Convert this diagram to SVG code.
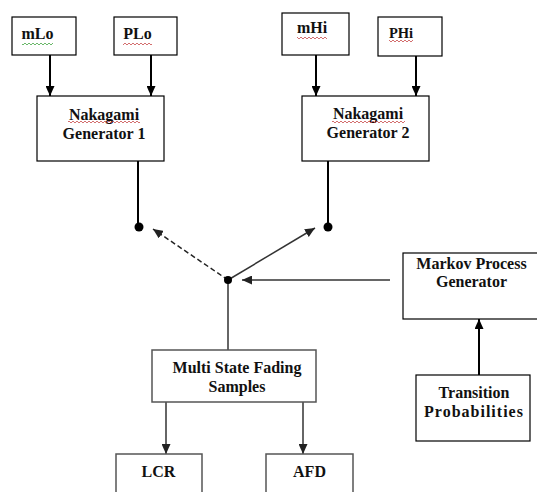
<svg xmlns="http://www.w3.org/2000/svg" width="537" height="492" viewBox="0 0 537 492">
<style>
.box{fill:#fff;stroke:#000;stroke-width:1.2}
.gbox{fill:#fff;stroke:#555;stroke-width:1.5}
.t{font-family:'Liberation Serif','DejaVu Serif',serif;font-weight:bold;font-size:16px;fill:#111;text-anchor:middle}
.thick{stroke:#000;stroke-width:2;fill:none}
.thin{stroke:#333;stroke-width:1.5;fill:none}
.dash{stroke:#222;stroke-width:1.5;fill:none;stroke-dasharray:5,3}
</style>
<defs>
<marker id="ah" markerUnits="userSpaceOnUse" markerWidth="11" markerHeight="9" refX="10" refY="4.5" orient="auto">
<path d="M0,0 L10,4.5 L0,9 z" fill="#000"/>
</marker>
<marker id="ahs" markerUnits="userSpaceOnUse" markerWidth="11" markerHeight="9" refX="10" refY="4.5" orient="auto">
<path d="M0,0 L10,4.5 L0,9 z" fill="#222"/>
</marker>
<pattern id="wr" width="4" height="3" patternUnits="userSpaceOnUse">
<path d="M0,2 Q1,0 2,2 T4,2" fill="none" stroke="#c03030" stroke-width="0.7"/>
</pattern>
<pattern id="wg" width="4" height="3" patternUnits="userSpaceOnUse">
<path d="M0,2 Q1,0 2,2 T4,2" fill="none" stroke="#2a9a2a" stroke-width="0.7"/>
</pattern>
</defs>
<rect width="537" height="492" fill="#fff"/>

<g id="connectors">
<line class="thick" x1="50" y1="55" x2="50" y2="96" marker-end="url(#ah)"/>
<line class="thick" x1="151" y1="55" x2="151" y2="96" marker-end="url(#ah)"/>
<line class="thick" x1="316" y1="55" x2="316" y2="96" marker-end="url(#ah)"/>
<line class="thick" x1="416" y1="56" x2="416" y2="96" marker-end="url(#ah)"/>
<line class="thick" x1="138" y1="161" x2="138" y2="227"/>
<line class="thick" x1="328" y1="161" x2="328" y2="227"/>
<line class="dash" x1="228" y1="280" x2="153" y2="229" marker-end="url(#ahs)"/>
<line class="thin" x1="228" y1="280" x2="315" y2="228" marker-end="url(#ahs)"/>
<line class="thin" x1="390" y1="280" x2="242" y2="280" marker-end="url(#ahs)"/>
<line class="thin" x1="228" y1="280" x2="228" y2="350"/>
<line class="thick" x1="479" y1="375" x2="479" y2="319" marker-end="url(#ah)"/>
<line class="thin" x1="166" y1="402" x2="166" y2="454" marker-end="url(#ahs)"/>
<line class="thin" x1="303" y1="402" x2="303" y2="454" marker-end="url(#ahs)"/>
<circle cx="139" cy="227" r="4.5" fill="#000"/>
<circle cx="328" cy="227" r="4.5" fill="#000"/>
<circle cx="228" cy="280" r="4" fill="#000"/>
</g>

<g id="mLo">
<rect class="box" x="12" y="17" width="64" height="38"/>
<text class="t" x="37.5" y="39" font-family="Liberation Serif">mLo</text>
<rect x="22" y="42" width="31" height="3" fill="url(#wg)"/>
</g>
<g id="PLo">
<rect class="box" x="114" y="17" width="63" height="38"/>
<text class="t" x="137.5" y="39">PLo</text>
<rect x="123" y="42" width="29" height="3" fill="url(#wr)"/>
</g>
<g id="mHi">
<rect class="box" x="282" y="13" width="67" height="42"/>
<text class="t" x="312" y="33">mHi</text>
<rect x="297" y="36" width="30" height="3" fill="url(#wr)"/>
</g>
<g id="PHi">
<rect class="box" x="378" y="17" width="64" height="39"/>
<text class="t" x="401" y="38" style="font-size:14.5px">PHi</text>
<rect x="389" y="39" width="24" height="3" fill="url(#wr)"/>
</g>
<g id="nakagami1">
<rect class="box" x="37" y="96" width="127" height="65"/>
<text class="t" x="104" y="120">Nakagami</text>
<text class="t" x="104" y="139">Generator 1</text>
<rect x="68" y="120" width="72" height="3" fill="url(#wr)"/>
</g>
<g id="nakagami2">
<rect class="box" x="302" y="96" width="127" height="65"/>
<text class="t" x="368" y="119">Nakagami</text>
<text class="t" x="368" y="138">Generator 2</text>
<rect x="332" y="120" width="73" height="3" fill="url(#wr)"/>
</g>
<g id="markov">
<rect class="box" x="403" y="253" width="140" height="66"/>
<text class="t" x="471.5" y="269">Markov Process</text>
<text class="t" x="471.5" y="287">Generator</text>
</g>
<g id="transition">
<rect class="box" x="416" y="375" width="114" height="66"/>
<text class="t" x="474" y="398">Transition</text>
<text class="t" x="474" y="417" style="letter-spacing:1px">Probabilities</text>
</g>
<g id="multistate">
<rect class="gbox" x="152" y="350" width="164" height="52"/>
<text class="t" x="237" y="373">Multi State Fading</text>
<text class="t" x="237" y="392">Samples</text>
</g>
<g id="LCR">
<rect class="gbox" x="116" y="454" width="86" height="45"/>
<text class="t" x="158.5" y="477">LCR</text>
</g>
<g id="AFD">
<rect class="gbox" x="266" y="454" width="87" height="45"/>
<text class="t" x="309.5" y="477">AFD</text>
</g>
</svg>
